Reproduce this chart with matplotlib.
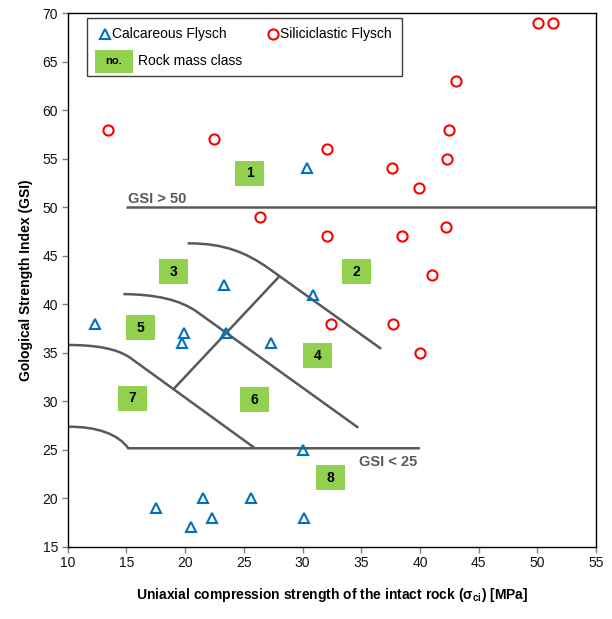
import matplotlib
matplotlib.use("Agg")
import matplotlib.pyplot as plt
from matplotlib.path import Path
from matplotlib.patches import PathPatch, Rectangle

plt.rcParams['font.family'] = ['Liberation Sans', 'DejaVu Sans']
plt.rcParams['mathtext.fontset'] = 'custom'
plt.rcParams['mathtext.rm'] = 'Liberation Sans'
plt.rcParams['mathtext.bf'] = 'Liberation Sans:bold'
plt.rcParams['mathtext.it'] = 'Liberation Sans:italic'

# ---- data ----
calc_ucs = [30.4, 23.3, 30.9, 12.3, 19.9, 19.7, 23.5, 27.3, 30.0, 17.5, 20.5, 21.5, 22.3, 25.6, 30.1]
calc_gsi = [54, 42, 41, 38, 37, 36, 37, 36, 25, 19, 17, 20, 18, 20, 18]

sil_ucs = [50.1, 51.3, 43.1, 42.5, 32.1, 42.3, 37.6, 39.9, 42.2, 32.1, 38.5, 41.0,
           32.4, 37.7, 40.0, 26.4, 13.4, 22.5]
sil_gsi = [69, 69, 63, 58, 56, 55, 54, 52, 48, 47, 47, 43, 38, 38, 35, 49, 58, 57]

class_labels = ['1', '2', '3', '4', '5', '6', '7', '8']
class_x = [25.5, 34.6, 19.0, 31.3, 16.2, 25.9, 15.5, 32.4]
class_y = [53.5, 43.35, 43.35, 34.7, 37.6, 30.15, 30.3, 22.1]

x_ticks = [10, 15, 20, 25, 30, 35, 40, 45, 50, 55]
y_ticks = [15, 20, 25, 30, 35, 40, 45, 50, 55, 60, 65, 70]

LINE = '#595959'
GREEN = '#92D050'
BLUE = '#0070C0'
RED = '#FF0000'

fig = plt.figure(figsize=(6.12, 6.19), dpi=100)
ax = fig.add_axes([0.1106, 0.1168, 0.8633, 0.8617])
ax.set_xlim(10, 55)
ax.set_ylim(15, 70)
ax.set_xticks(x_ticks)
ax.set_yticks(y_ticks)
ax.tick_params(direction='out', length=4, width=1, color='#808080',
               labelsize=10, labelcolor='#111111', pad=3)
for s in ax.spines.values():
    s.set_linewidth(1.0)
    s.set_color('black')

lw = 1.8
# GSI thresholds
ax.plot([15.0, 55], [50, 50], color=LINE, lw=lw, solid_capstyle='butt', zorder=2)

def bez_line(p0, p1, p2, p3, rest):
    verts = [p0, p1, p2, p3] + rest
    codes = [Path.MOVETO, Path.CURVE4, Path.CURVE4, Path.CURVE4] + [Path.LINETO] * len(rest)
    ax.add_patch(PathPatch(Path(verts, codes), fill=False, edgecolor=LINE, lw=lw,
                           capstyle='butt', zorder=2))

# upper boundary (1-2 / 3-4)
bez_line((20.22, 46.28), (23.5, 46.3), (25.3, 45.2), (27.0, 43.8), [(36.7, 35.4)])
# 3-4 / 5-6 boundary
bez_line((14.74, 41.05), (17.5, 41.0), (19.5, 40.5), (21.0, 39.23), [(34.75, 27.27)])
# 5-6 / 7 boundary
bez_line((10.0, 35.8), (12.5, 35.8), (14.2, 35.4), (15.3, 34.5), [(25.9, 25.2)])
# bottom boundary + GSI < 25
bez_line((10.0, 27.37), (12.5, 27.4), (14.3, 26.6), (15.16, 25.15), [(40.0, 25.15)])
# diagonal separator
ax.plot([19.0, 28.0], [31.23, 42.84], color=LINE, lw=lw, solid_capstyle='butt', zorder=2)

ax.text(15.15, 50.45, 'GSI > 50', color=LINE, fontsize=10.5, fontweight='bold',
        ha='left', va='baseline', zorder=3)
ax.text(39.8, 23.3, 'GSI < 25', color=LINE, fontsize=10.5, fontweight='bold',
        ha='right', va='baseline', zorder=3)

# class boxes
bw, bh = 2.47, 2.58
for lab, cx, cy in zip(class_labels, class_x, class_y):
    ax.add_patch(Rectangle((cx - bw / 2, cy - bh / 2), bw, bh, facecolor=GREEN,
                           edgecolor='none', zorder=3))
    ax.text(cx, cy, lab, fontsize=10, fontweight='bold', ha='center', va='center',
            color='black', zorder=4)

# data
ax.plot(calc_ucs, calc_gsi, linestyle='none', marker='^', ms=7, mfc='none',
        mec=BLUE, mew=1.5, zorder=5)
ax.plot(sil_ucs, sil_gsi, linestyle='none', marker='o', ms=7.3, mfc='none',
        mec=RED, mew=1.5, zorder=5)

# legend (manual)
T = ax.transAxes
ax.add_patch(Rectangle((0.036, 0.883), 0.597, 0.1076, transform=T, facecolor='white',
                       edgecolor='#404040', lw=1.0, zorder=6))
ax.plot([0.0705], [0.9606], transform=T, marker='^', ms=7, mfc='none', mec=BLUE,
        mew=1.5, linestyle='none', zorder=7, clip_on=False)
ax.text(0.0835, 0.9606, 'Calcareous Flysch', transform=T, fontsize=10, ha='left',
        va='center', zorder=7)
ax.plot([0.388], [0.9606], transform=T, marker='o', ms=7.3, mfc='none', mec=RED,
        mew=1.5, linestyle='none', zorder=7, clip_on=False)
ax.text(0.402, 0.9606, 'Siliciclastic Flysch', transform=T, fontsize=10, ha='left',
        va='center', zorder=7)
ax.add_patch(Rectangle((0.0517, 0.8886), 0.0713, 0.0426, transform=T, facecolor=GREEN,
                       edgecolor='none', zorder=7))
ax.text(0.0873, 0.9099, 'no.', transform=T, fontsize=8, fontweight='bold', ha='center',
        va='center', zorder=8)
ax.text(0.133, 0.9099, 'Rock mass class', transform=T, fontsize=10, ha='left',
        va='center', zorder=7)

ax.set_xlabel(r'Uniaxial compression strength of the intact rock (σ$_{\mathbf{ci}}$) [MPa]',
              fontsize=10, fontweight='bold')
ax.xaxis.set_label_coords(0.5, -0.09)
ax.xaxis.label.set_va('center')
ax.set_ylabel('Gological Strength Index (GSI)', fontsize=10, fontweight='bold')
ax.yaxis.set_label_coords(-0.079, 0.5)
ax.yaxis.label.set_va('center')

fig.savefig('out.png', dpi=100)
